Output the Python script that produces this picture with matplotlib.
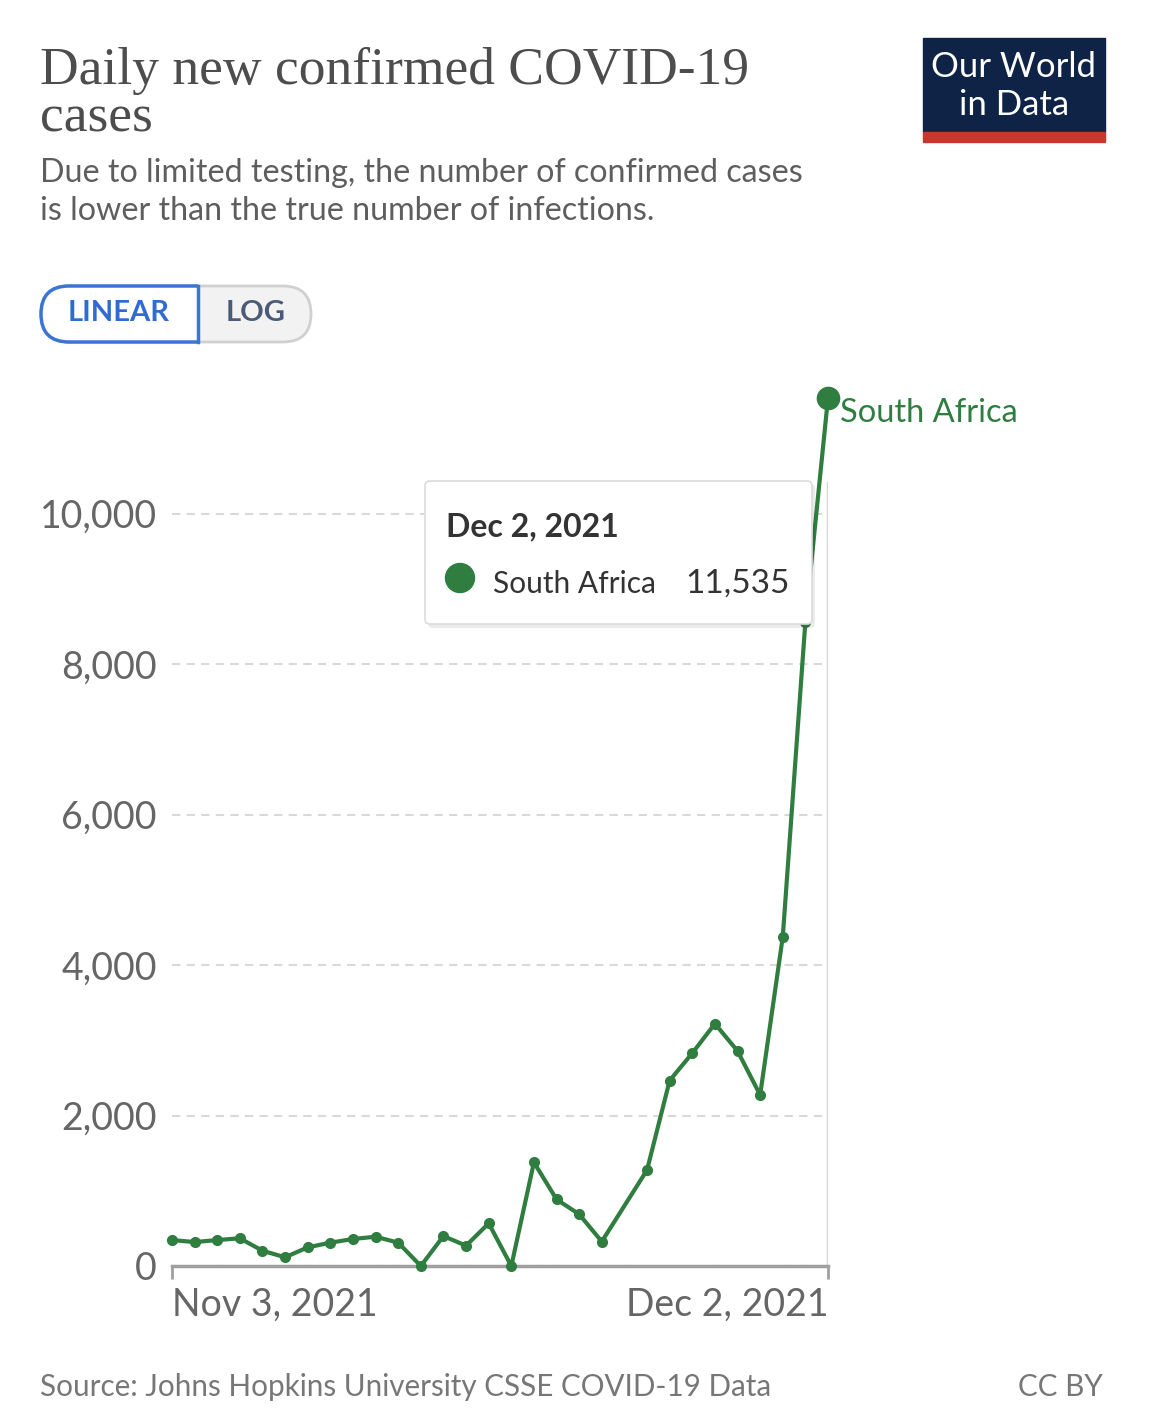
import pandas as pd
import matplotlib.pyplot as plt
from matplotlib.patches import FancyBboxPatch, Rectangle, Circle
from matplotlib.ticker import FuncFormatter

# Daily new confirmed cases, South Africa (Nov 23 missing in the chart)
fechas = ["2021-11-03", "2021-11-04", "2021-11-05", "2021-11-06", "2021-11-07",
          "2021-11-08", "2021-11-09", "2021-11-10", "2021-11-11", "2021-11-12",
          "2021-11-13", "2021-11-14", "2021-11-15", "2021-11-16", "2021-11-17",
          "2021-11-18", "2021-11-19", "2021-11-20", "2021-11-21", "2021-11-22",
          "2021-11-24", "2021-11-25", "2021-11-26", "2021-11-27", "2021-11-28",
          "2021-11-29", "2021-11-30", "2021-12-01", "2021-12-02"]
casos = [345, 318, 345, 368, 203, 116, 248, 310, 359, 389,
         310, 0, 398, 270, 567, 0, 1377, 886, 687, 325,
         1275, 2465, 2828, 3220, 2858, 2273, 4373, 8561, 11535]
y_ticks = [0, 2000, 4000, 6000, 8000, 10000]
x_labels = ["Nov 3, 2021", "Dec 2, 2021"]
pais = "South Africa"

W, H = 1151, 1415
verde = "#2f7d3f"
gris = "#666666"

fig = plt.figure(figsize=(W / 100, H / 100), dpi=100)
fig.patch.set_facecolor("white")
plt.rcParams["font.family"] = ["Lato", "DejaVu Sans"]

# main plot area in pixel terms
x0, x1, y_base, y_top = 172, 828, 1266, 398
ax = fig.add_axes([x0 / W, 1 - y_base / H, (x1 - x0) / W, (y_base - y_top) / H])

x = pd.to_datetime(fechas)
ax.plot(x, casos, color=verde, lw=3, marker="o", ms=7, zorder=3, clip_on=False)
ax.plot(x[-1:], casos[-1:], color=verde, marker="o", ms=16, ls="none", zorder=4, clip_on=False)

ax.set_xlim(x[0], x[-1])
ax.set_ylim(0, casos[-1])
ax.set_yticks(y_ticks)
ax.yaxis.set_major_formatter(FuncFormatter(lambda v, p: f"{int(v):,}"))
ax.tick_params(axis="y", length=0, pad=11, labelsize=27, labelcolor=gris)
ax.grid(axis="y", color="#d9d9d9", ls=(0, (4, 3)), lw=1.5)
ax.set_axisbelow(True)

ax.set_xticks([x[0], x[-1]])
ax.set_xticklabels(x_labels)
ax.tick_params(axis="x", length=9, width=2, color="#a0a0a0", pad=6, labelsize=27, labelcolor=gris)
lbls = ax.get_xticklabels()
lbls[0].set_ha("left")
lbls[1].set_ha("right")

for s in ["top", "right", "left"]:
    ax.spines[s].set_visible(False)
ax.spines["bottom"].set_color("#a0a0a0")
ax.spines["bottom"].set_linewidth(2.5)

ax.axvline(x[-1], ymin=0, ymax=(y_base - 483) / (y_base - y_top), color="#d5d5d5", lw=2.5, zorder=1)
ax.annotate(pais, (x[-1], casos[-1]), xytext=(9, -11), textcoords="offset points",
            color=verde, fontsize=23.5, va="center", ha="left", annotation_clip=False)

# overlay in pixel coords for the rest
ov = fig.add_axes([0, 0, 1, 1])
ov.set_xlim(0, W)
ov.set_ylim(H, 0)
ov.axis("off")
ov.patch.set_alpha(0)

ov.text(40, 84, "Daily new confirmed COVID-19", family="Liberation Serif",
        fontsize=38.5, color="#4d4d4d", va="baseline")
ov.text(40, 132, "cases", family="Liberation Serif",
        fontsize=38.5, color="#4d4d4d", va="baseline")
ov.text(40, 182, "Due to limited testing, the number of confirmed cases",
        fontsize=23.2, color="#5e5e5e", va="baseline")
ov.text(40, 220, "is lower than the true number of infections.",
        fontsize=23.2, color="#5e5e5e", va="baseline")

# logo
ov.add_patch(Rectangle((923, 38), 182, 94, color="#0f2346"))
ov.add_patch(Rectangle((923, 132), 182, 10, color="#c8372d"))
ov.text(1014, 67, "Our World", color="white", fontsize=25, ha="center", va="center")
ov.text(1014, 105, "in Data", color="white", fontsize=25, ha="center", va="center")

# linear / log toggle
ov.add_patch(FancyBboxPatch((41, 286), 270, 56, boxstyle="round,pad=0,rounding_size=28",
                            fc="#f2f2f2", ec="#d0d0d0", lw=2))
lin = FancyBboxPatch((41, 286), 200, 56, boxstyle="round,pad=0,rounding_size=28",
                     fc="white", ec="#3a75d4", lw=2.5)
ov.add_patch(lin)
clip = Rectangle((30, 270), 168, 90, transform=ov.transData)
lin.set_clip_path(clip)
ov.plot([198, 198], [286, 342], color="#3a75d4", lw=2.5)
ov.text(119, 313, "LINEAR", color="#2f6bd0", fontsize=21, fontweight="bold", ha="center", va="center")
ov.text(256, 313, "LOG", color="#4b5a78", fontsize=21, fontweight="bold", ha="center", va="center")

# tooltip
ov.add_patch(FancyBboxPatch((428, 484), 387, 144, boxstyle="round,pad=0,rounding_size=5",
                            fc="#000000", ec="none", alpha=0.08, zorder=5))
ov.add_patch(FancyBboxPatch((425, 481), 387, 143, boxstyle="round,pad=0,rounding_size=5",
                            fc="white", ec="#dcdcdc", lw=1.2, zorder=6))
ov.text(446, 536, "Dec 2, 2021", fontsize=23, fontweight="bold", color="#333333", va="baseline", zorder=7)
ov.add_patch(Circle((460, 578), 14.5, color=verde, zorder=7))
ov.text(493, 593, pais, fontsize=21.5, color="#333333", va="baseline", zorder=7)
ov.text(790, 593, f"{casos[-1]:,}", fontsize=24, color="#333333", va="baseline", ha="right", zorder=7)

# footer
ov.text(40, 1396, "Source: Johns Hopkins University CSSE COVID-19 Data", fontsize=21.3, color="#777777", va="baseline")
ov.text(1103, 1396, "CC BY", fontsize=21.3, color="#777777", va="baseline", ha="right")

plt.savefig("out.png", dpi=100, facecolor="white")
